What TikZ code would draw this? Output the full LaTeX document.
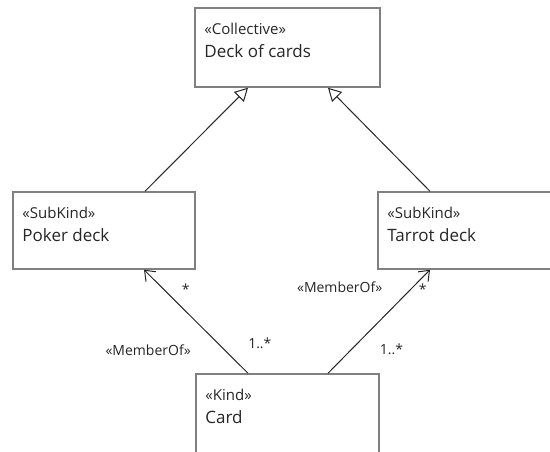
\documentclass[tikz,border=0pt]{standalone}
\usepackage{fontspec}
\setmainfont{Open Sans}
\usetikzlibrary{arrows.meta, positioning, calc}

\newcommand{\stereo}[1]{{\fontsize{15}{23}\selectfont «#1»}}

\begin{document}
\begin{tikzpicture}[
  x=1pt, y=-1pt,
  every node/.style={text=black!85},
  cls/.style={
    rectangle, draw=black!50, line width=1.5pt, fill=white,
    minimum width=183pt, minimum height=78pt, inner sep=0pt
  },
  ttl/.style={
    anchor=north west, inner sep=0pt, align=left,
    font=\fontsize{17}{23}\selectfont
  },
  gen/.style={
    -{Triangle[open, length=13pt, width=14pt]}, line width=1pt, draw=black!85
  },
  mem/.style={
    -{Straight Barb[length=9pt, width=14pt]}, line width=1pt, draw=black!85
  },
  mult/.style={font=\fontsize{14}{17}\selectfont, inner sep=0pt}
]

\useasboundingbox (0,0) rectangle (550,451);
\clip (0,0) rectangle (550,451);

% Classes
\node[cls, minimum width=185pt, minimum height=79pt] (deck) at (287.5,47.5) {};
\node[ttl] (deckt) at ([shift={(10pt,-15.5pt)}]deck.north west)
{\stereo{Collective}\\Deck of cards};

\node[cls, minimum width=182pt, minimum height=77pt] (poker) at (104,230.5) {};
\node[ttl] (pokert) at ([shift={(10pt,-15.5pt)}]poker.north west)
{\stereo{SubKind}\\Poker deck};

\node[cls, minimum width=182pt, minimum height=77pt] (tarrot) at (469,230.5) {};
\node[ttl] (tarrott) at ([shift={(10pt,-15.5pt)}]tarrot.north west)
{\stereo{SubKind}\\Tarrot deck};

\node[cls, minimum width=183pt, minimum height=79pt] (card) at (287.5,413.5) {};
\node[ttl] (cardt) at ([shift={(10pt,-15.5pt)}]card.north west)
{\stereo{Kind}\\Card};

% Generalizations
\draw[gen] ([xshift=41pt]poker.north) -- ([xshift=-39.5pt]deck.south);
\draw[gen] ([xshift=-39pt]tarrot.north) -- ([xshift=40.5pt]deck.south);

% Memberships
\draw[mem] ([xshift=-39.5pt]card.north) -- ([xshift=40pt]poker.south)
  node[mult, pos=.81, xshift=22pt] (m1) {*}
  node[mult, pos=.29, xshift=42pt] (m2) {1..*}
  node[mult, pos=.22, xshift=-77pt] (m3) {«MemberOf»};
\draw[mem] ([xshift=40.5pt]card.north) -- ([xshift=-39pt]tarrot.south)
  node[mult, pos=.81, xshift=12pt] (m4) {*}
  node[mult, pos=.23, xshift=40pt] (m5) {1..*}
  node[mult, pos=.83, xshift=-73pt] (m6) {«MemberOf»};

\end{tikzpicture}
\end{document}
